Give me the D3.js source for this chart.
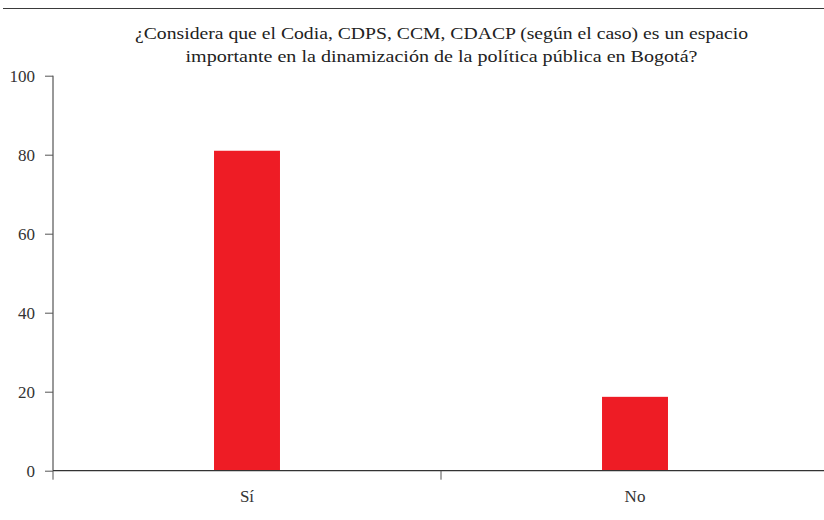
<!DOCTYPE html>
<html><head><meta charset="utf-8">
<script src="https://cdn.jsdelivr.net/npm/d3@7"></script>
<style>body{margin:0;background:#fff}svg{display:block}
text{font-family:"Liberation Serif","Times New Roman",Tinos,"DejaVu Serif","Noto Serif",serif}</style>
</head><body>
<svg id="c" width="824" height="520"></svg>
<script>
const categories = ["Sí", "No"];
const values = [81, 18.7];
const yTicks = [0, 20, 40, 60, 80, 100];
const titleLines = ["¿Considera que el Codia, CDPS, CCM, CDACP (según el caso) es un espacio",
                    "importante en la dinamización de la política pública en Bogotá?"];
const titleWidths = [613, 512];

const svg = d3.select("#c");
const ink = "#333";

svg.append("line").attr("x1", 3).attr("x2", 824).attr("y1", 8.5).attr("y2", 8.5)
  .attr("stroke", "#3a3a3a").attr("stroke-width", 1.2);

svg.selectAll("text.title").data(titleLines).enter().append("text")
  .attr("class", "title")
  .attr("x", 441.5).attr("y", (d, i) => 39 + i * 23)
  .attr("text-anchor", "middle")
  .attr("font-size", 17).attr("fill", "#222")
  .attr("textLength", (d, i) => titleWidths[i])
  .attr("lengthAdjust", "spacingAndGlyphs")
  .text(d => d);

const x = d3.scaleBand().domain(categories).range([53, 829]).padding(0);
const y = d3.scaleLinear().domain([0, 100]).range([470.7, 75.7]);
const barFrac = 0.17;

svg.selectAll("rect.bar").data(categories).enter().append("rect")
  .attr("class", "bar")
  .attr("x", d => x(d) + x.bandwidth() * (1 - barFrac) / 2)
  .attr("width", x.bandwidth() * barFrac)
  .attr("y", (d, i) => y(values[i]))
  .attr("height", (d, i) => y(0) - y(values[i]))
  .attr("fill", "#ee1c25");

const yAxis = svg.append("g").attr("transform", "translate(53,0)")
  .call(d3.axisLeft(y).tickValues(yTicks).tickSize(8).tickPadding(10));
yAxis.attr("font-family", null).attr("font-size", null);
yAxis.select(".domain").attr("stroke", ink).attr("d", `M0,${y(100)}V${y(0)}`);
yAxis.selectAll(".tick line").attr("stroke", "#555").attr("stroke-width", 1);
yAxis.selectAll(".tick text").attr("font-size", 17).attr("fill", ink);

const xAxis = svg.append("g").attr("transform", `translate(0,${y(0)})`)
  .call(d3.axisBottom(x).tickSize(0).tickPadding(19));
xAxis.attr("font-family", null).attr("font-size", null);
xAxis.select(".domain").attr("stroke", ink).attr("stroke-width", 1.2).attr("d", "M53,0H829");
xAxis.selectAll(".tick text").attr("font-size", 17).attr("fill", ink);
const bounds = [x.range()[0], ...categories.slice(1).map(c => x(c)), x.range()[1]];
xAxis.selectAll("line.bt").data(bounds).enter().append("line").attr("class", "bt")
  .attr("x1", d => d).attr("x2", d => d).attr("y1", 0).attr("y2", 9)
  .attr("stroke", "#555").attr("stroke-width", 1);
</script>
</body></html>
